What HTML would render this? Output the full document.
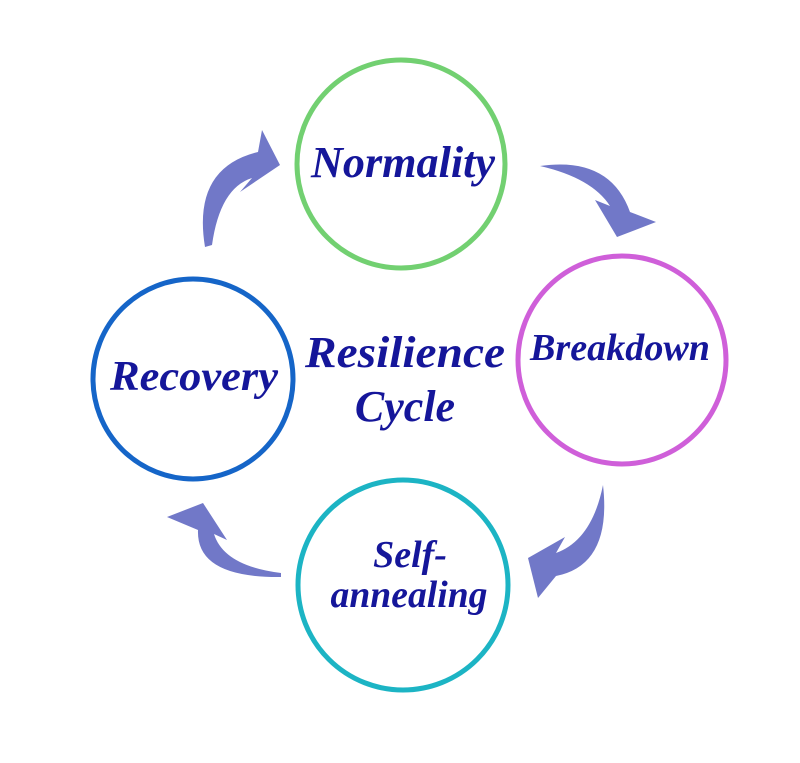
<!DOCTYPE html>
<html><head><style>body{margin:0;background:#fff}svg{display:block}</style></head>
<body>
<svg width="800" height="763" viewBox="0 0 800 763" xmlns="http://www.w3.org/2000/svg">
<rect width="800" height="763" fill="#fff"/>
<!-- circles -->
<circle cx="401" cy="164" r="104" fill="none" stroke="#72d071" stroke-width="5"/>
<circle cx="622" cy="360" r="104" fill="none" stroke="#cf5fd9" stroke-width="5"/>
<circle cx="193" cy="379" r="100" fill="none" stroke="#1565c8" stroke-width="5"/>
<circle cx="403" cy="585" r="105" fill="none" stroke="#1cb4c4" stroke-width="5"/>
<!-- arrows -->
<g fill="#7178c8">
<path d="M205 247 Q192 168 258 152 L262 130 L280 165 L240 192 L252 178 Q220 188 212 245 Z"/>
<path d="M540 166 Q610 156 630 212 L656 222 L617 237 L595 200 L610 206 Q592 178 540 166 Z"/>
<path d="M603 485 Q612 565 556 576 L538 598 L528 558 L565 537 L556 553 Q592 540 603 485 Z"/>
<path d="M281 577 Q196 578 198 530 L167 517 L203 503 L227 540 L214 534 Q224 566 281 573 Z"/>
</g>
<g font-family="Liberation Serif, serif" font-style="italic" font-weight="bold" fill="#15169a" text-anchor="middle">
<text x="403" y="177" font-size="44" textLength="184" lengthAdjust="spacingAndGlyphs">Normality</text>
<text x="620" y="360" font-size="38" textLength="180" lengthAdjust="spacingAndGlyphs">Breakdown</text>
<text x="194" y="390" font-size="42" textLength="168" lengthAdjust="spacingAndGlyphs">Recovery</text>
<text x="405" y="367" font-size="44" textLength="200" lengthAdjust="spacingAndGlyphs">Resilience</text>
<text x="405" y="421" font-size="44">Cycle</text>
<text x="410" y="567" font-size="38">Self-</text>
<text x="409" y="607" font-size="38" textLength="157" lengthAdjust="spacingAndGlyphs">annealing</text>
</g>
</svg>
</body></html>
